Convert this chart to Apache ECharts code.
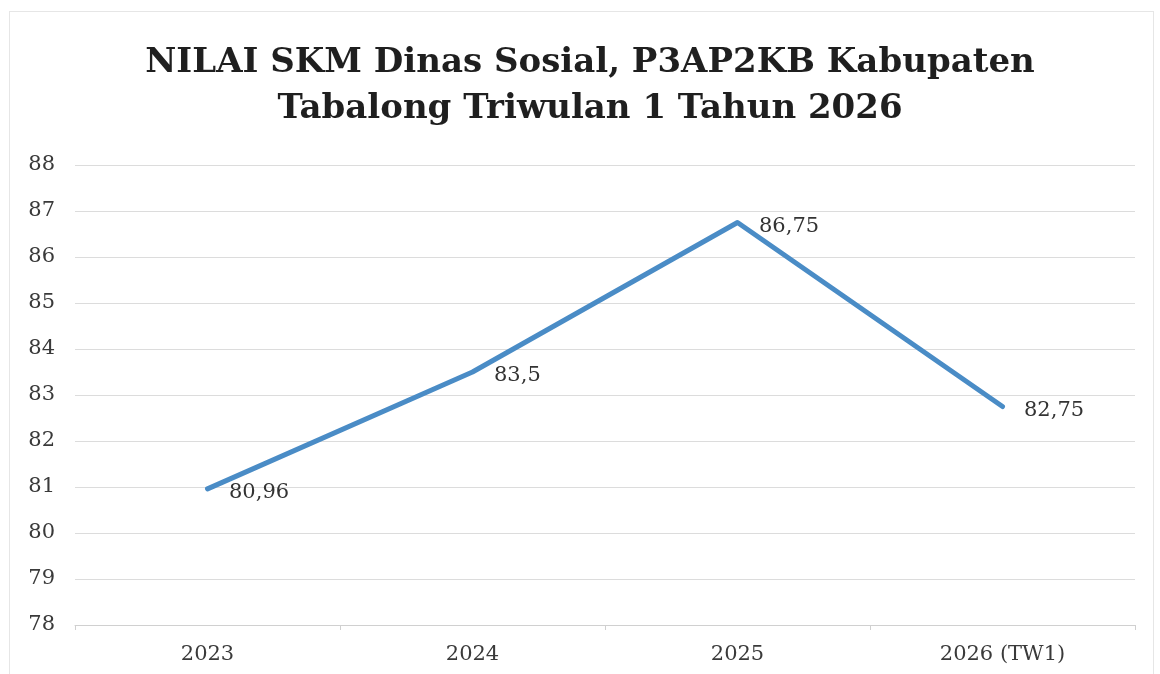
<!DOCTYPE html>
<html>
<head>
<meta charset="utf-8">
<script src="https://cdn.jsdelivr.net/npm/echarts@6/dist/echarts.min.js"></script>
<style>
html,body{margin:0;padding:0;background:#fff;}
#wrap{position:absolute;left:0;top:0;width:1160px;height:674px;}
#border{position:absolute;left:9px;top:11px;width:1145px;height:680px;border:1px solid #e6e6e6;box-sizing:border-box;}
#chart{position:absolute;left:0;top:0;width:1160px;height:674px;}
</style>
</head>
<body>
<div id="wrap"><div id="border"></div><div id="chart"></div></div>
<script>
const titleText = "NILAI SKM Dinas Sosial, P3AP2KB Kabupaten\nTabalong Triwulan 1 Tahun 2026";
const categories = ["2023", "2024", "2025", "2026 (TW1)"];
const values = [80.96, 83.5, 86.75, 82.75];
const valueLabels = ["80,96", "83,5", "86,75", "82,75"];
const yMin = 78, yMax = 88, yStep = 1;

const chart = echarts.init(document.getElementById('chart'), null, {renderer: 'canvas'});
chart.setOption({
  backgroundColor: 'transparent',
  animation: false,
  title: {
    text: titleText,
    left: 585,
    top: 35,
    textAlign: 'center',
    textStyle: {
      fontFamily: 'DejaVu Serif',
      fontWeight: 'bold',
      fontSize: 34,
      lineHeight: 46,
      color: '#1f1f1f'
    }
  },
  grid: {left: 75, right: 25, top: 165, bottom: 49, containLabel: false},
  xAxis: {
    type: 'category',
    data: categories,
    boundaryGap: true,
    axisLine: {show: true, lineStyle: {color: '#d0d0d0', width: 1}},
    axisTick: {show: true, length: 5, lineStyle: {color: '#d0d0d0'}},
    axisLabel: {
      margin: 19,
      fontFamily: 'DejaVu Serif',
      fontSize: 21,
      color: '#3a3a3a'
    }
  },
  yAxis: {
    type: 'value',
    min: yMin, max: yMax, interval: yStep,
    axisLine: {show: false},
    axisTick: {show: false},
    splitLine: {show: true, lineStyle: {color: '#dcdcdc', width: 1}},
    axisLabel: {
      margin: 20,
      fontFamily: 'DejaVu Serif',
      fontSize: 21,
      color: '#3a3a3a',
      align: 'right'
    }
  },
  series: [{
    type: 'line',
    data: values,
    symbol: 'circle',
    symbolSize: 3,
    showSymbol: true,
    itemStyle: {color: '#4a8cc6'},
    lineStyle: {color: '#4a8cc6', width: 5, cap: 'round', join: 'round'},
    label: {
      show: true,
      position: 'right',
      distance: 20,
      offset: [0, 4],
      fontFamily: 'DejaVu Serif',
      fontSize: 21,
      color: '#333',
      formatter: function (p) { return valueLabels[p.dataIndex]; }
    }
  }]
});
</script>
</body>
</html>
